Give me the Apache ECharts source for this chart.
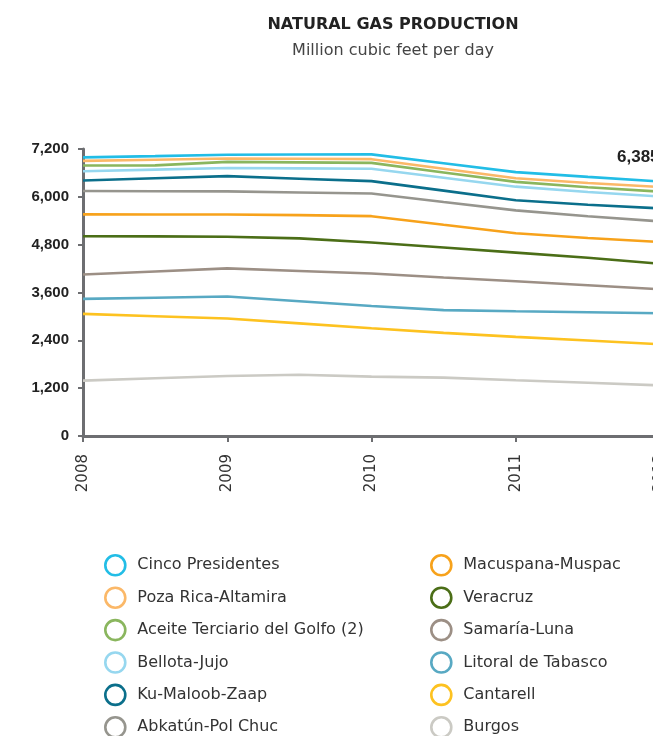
<!DOCTYPE html>
<html>
<head>
<meta charset="utf-8">
<script src="https://cdn.jsdelivr.net/npm/echarts@6/dist/echarts.min.js"></script>
<style>
  html, body { margin: 0; padding: 0; background: #fff; overflow: hidden; }
  #chart { width: 668px; height: 760px; }
</style>
</head>
<body>
<div id="chart"></div>
<script>
// x positions (years, half-year steps)
var years = [2008, 2008.5, 2009, 2009.5, 2010, 2010.5, 2011, 2011.5, 2012];
var yTicks = [0, 1200, 2400, 3600, 4800, 6000, 7200];

// Cumulative (stacked) levels, million cubic feet per day
var names = [
  'Cinco Presidentes', 'Poza Rica-Altamira', 'Aceite Terciario del Golfo (2)',
  'Bellota-Jujo', 'Ku-Maloob-Zaap', 'Abkatún-Pol Chuc',
  'Macuspana-Muspac', 'Veracruz', 'Samaría-Luna',
  'Litoral de Tabasco', 'Cantarell', 'Burgos'
];
var cincoPresidentes = [6990, 7022, 7055, 7062, 7066, 6843, 6620, 6500, 6385];
var pozaRica        = [6902, 6930, 6962, 6955, 6945, 6705, 6465, 6346, 6245];
var aceiteTerciario = [6785, 6790, 6877, 6865, 6851, 6612, 6375, 6242, 6130];
var bellotaJujo     = [6640, 6683, 6725, 6715, 6706, 6480, 6255, 6121, 6008];
var kuMaloobZaap    = [6410, 6465, 6520, 6455, 6395, 6155, 5915, 5800, 5710];
var abkatun         = [6145, 6140, 6136, 6110, 6085, 5870, 5660, 5511, 5385];
var macuspana       = [5560, 5558, 5555, 5540, 5515, 5300, 5088, 4966, 4865];
var veracruz        = [5010, 5008, 5000, 4958, 4855, 4728, 4600, 4470, 4322];
var samaria         = [4050, 4128, 4205, 4140, 4075, 3975, 3882, 3780, 3680];
var litoral         = [3440, 3470, 3498, 3380, 3262, 3158, 3130, 3105, 3080];
var cantarell       = [3064, 3005, 2947, 2826, 2705, 2587, 2486, 2395, 2300];
var burgos          = [1389, 1448, 1506, 1535, 1490, 1465, 1398, 1335, 1270];

var seriesValues = [cincoPresidentes, pozaRica, aceiteTerciario, bellotaJujo, kuMaloobZaap, abkatun,
                    macuspana, veracruz, samaria, litoral, cantarell, burgos];
var colors = ['#22bde6', '#fbb868', '#8ab65e', '#96d7ef', '#0b6f8b', '#96958e',
              '#f7a21b', '#4b6e17', '#9c8f85', '#58a9c3', '#fdc220', '#cbcac4'];

function fmt(v) { return String(v).replace(/\B(?=(\d{3})+(?!\d))/g, ','); }

var series = names.map(function (n, i) {
  var s = {
    name: n,
    type: 'line',
    data: years.map(function (y, j) { return [y, seriesValues[i][j]]; }),
    showSymbol: false,
    symbol: 'circle',
    smooth: false,
    z: 20 - i,
    lineStyle: { color: colors[i], width: 2.6 },
    itemStyle: { color: colors[i] },
    emphasis: { disabled: true }
  };
  if (i === 0) {
    s.endLabel = {
      show: true,
      formatter: function (p) { return fmt(p.value[1]); },
      distance: 0,
      offset: [-43, -24],
      align: 'left',
      verticalAlign: 'middle',
      fontFamily: 'Liberation Sans',
      fontWeight: 'bold',
      fontSize: 17,
      color: '#222'
    };
  }
  return s;
});

function legendData(from, to) {
  return names.slice(from, to).map(function (n, k) {
    return {
      name: n,
      icon: 'circle',
      itemStyle: { color: '#fff', borderColor: colors[from + k], borderWidth: 2.6 }
    };
  });
}

var legendCommon = {
  orient: 'vertical',
  top: 554,
  height: 200,
  itemWidth: 20,
  itemHeight: 20,
  itemGap: 9.8,
  padding: 0,
  selectedMode: false,
  textStyle: { fontFamily: 'DejaVu Sans', fontSize: 16, color: '#333', padding: [0, 0, 0, 7] }
};

var option = {
  animation: false,
  backgroundColor: '#fff',
  color: colors,
  title: {
    text: 'NATURAL GAS PRODUCTION',
    subtext: 'Million cubic feet per day',
    left: 388,
    textAlign: 'center',
    top: 12,
    itemGap: 10,
    textStyle: { fontFamily: 'DejaVu Sans', fontWeight: 'bold', fontSize: 16, color: '#222' },
    subtextStyle: { fontFamily: 'DejaVu Sans', fontSize: 16, color: '#444' }
  },
  legend: [
    Object.assign({}, legendCommon, { left: 104, data: legendData(0, 6) }),
    Object.assign({}, legendCommon, { left: 430, data: legendData(6, 12) })
  ],
  grid: { left: 83, right: 8, top: 149, bottom: 324, containLabel: false, outerBoundsMode: 'none' },
  xAxis: {
    type: 'value',
    min: 2008,
    max: 2012,
    interval: 1,
    axisLine: { show: true, lineStyle: { color: '#6d6e71', width: 3 } },
    axisTick: { show: true, length: 6, lineStyle: { color: '#6d6e71', width: 2 } },
    splitLine: { show: false },
    axisLabel: {
      rotate: 90,
      margin: 18,
      fontFamily: 'DejaVu Sans',
      fontSize: 15,
      color: '#333',
      formatter: function (v) { return String(v); }
    }
  },
  yAxis: {
    type: 'value',
    min: yTicks[0],
    max: yTicks[yTicks.length - 1],
    interval: yTicks[1] - yTicks[0],
    axisLine: { show: true, lineStyle: { color: '#6d6e71', width: 3 } },
    axisTick: { show: true, length: 5, lineStyle: { color: '#6d6e71', width: 2 } },
    splitLine: { show: false },
    axisLabel: {
      margin: 14,
      fontFamily: 'Liberation Sans',
      fontWeight: 'bold',
      fontSize: 15,
      color: '#222',
      formatter: function (v) { return fmt(v); }
    }
  },
  series: series
};

var chart = echarts.init(document.getElementById('chart'), null, { renderer: 'canvas' });
chart.setOption(option);
</script>
</body>
</html>
